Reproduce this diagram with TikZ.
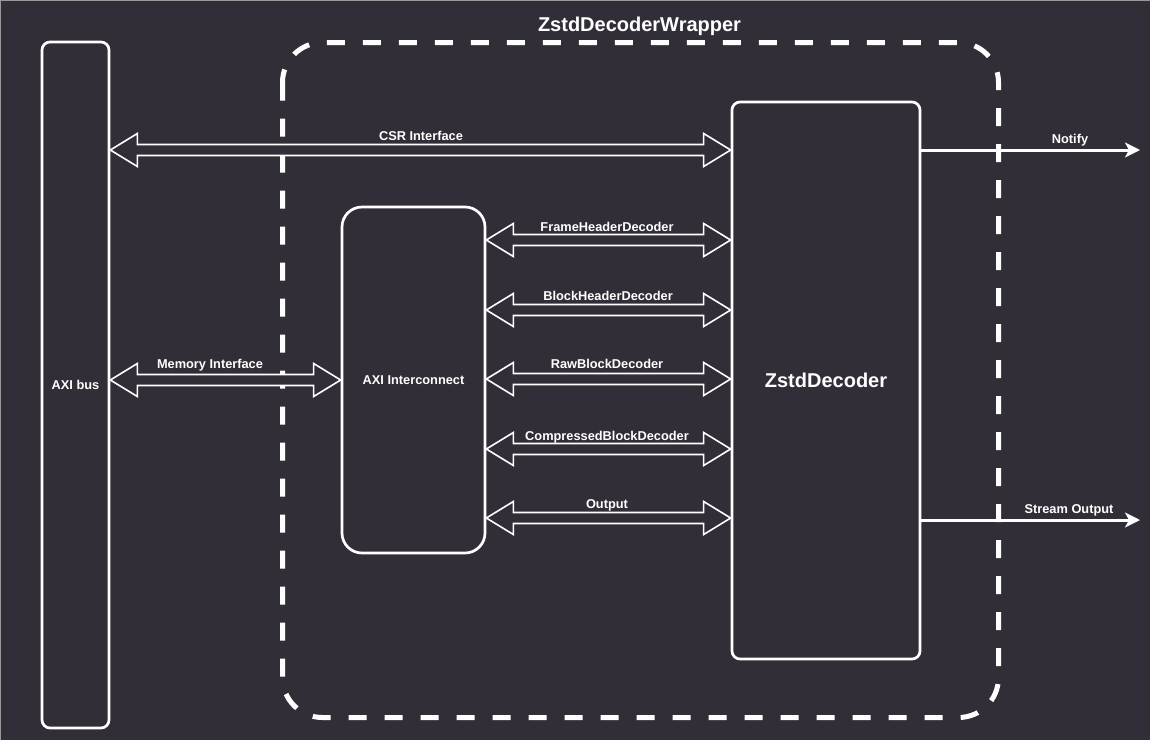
\documentclass[tikz,border=0pt]{standalone}
\usepackage{fontspec}
\setmainfont{Liberation Sans}
\usetikzlibrary{arrows.meta,calc}
\definecolor{bg}{RGB}{50,46,56}
\newcommand\hollowarrow[2]{%
  \draw[harrow] let \p1=#1, \p2=#2 in
    (\x1,\y1) -- (\x1+27pt,\y1+16.5pt) -- (\x1+27pt,\y1+5.5pt) -- (\x2-27pt,\y2+5.5pt)
    -- (\x2-27pt,\y2+16.5pt) -- (\x2,\y2) -- (\x2-27pt,\y2-16.5pt) -- (\x2-27pt,\y2-5.5pt)
    -- (\x1+27pt,\y1-5.5pt) -- (\x1+27pt,\y1-16.5pt) -- cycle;}
\begin{document}
\begin{tikzpicture}[x=1pt,y=-1pt,
  box/.style={draw=white, line width=2.7pt, fill=bg, text=white, inner sep=0pt,
    font=\bfseries\fontsize{12.8}{15}\selectfont},
  lbl/.style={text=white, font=\bfseries\fontsize{12.8}{15}\selectfont, anchor=base, inner sep=0pt},
  harrow/.style={draw=white, line width=1.6pt, fill=bg, line join=miter},
  sarrow/.style={draw=white, line width=3pt, -{Stealth[length=15pt,width=15pt,inset=4pt]}}]
\useasboundingbox (0,0) rectangle (1150,740);
\fill[bg] (0,0) rectangle (1150,740);
\draw[gray!80, line width=1.5pt] (0,740) -- (0,0) -- (1150,0);
% wrapper
\draw[white, line width=5pt, dash pattern=on 18pt off 18pt, rounded corners=40pt]
  (282.5,42.5) rectangle (998.5,717.5);
\node[lbl, font=\bfseries\fontsize{20}{24}\selectfont] (title) at (639.5,31) {ZstdDecoderWrapper};
% boxes
\node[box, rounded corners=8pt, minimum width=67pt, minimum height=686pt] (axi) at (75.5,385) {AXI bus};
\node[box, rounded corners=20pt, minimum width=143pt, minimum height=346pt] (ic) at (413.5,380) {AXI Interconnect};
\node[box, rounded corners=8pt, minimum width=188pt, minimum height=557pt,
  font=\bfseries\fontsize{20}{24}\selectfont] (zd) at (826,380.5) {ZstdDecoder};
% hollow double arrows
\hollowarrow{(axi.east |- 0,150)}{(zd.west |- 0,150)}
\hollowarrow{(axi.east |- 0,380)}{(ic.west |- 0,380)}
\hollowarrow{(ic.east |- 0,240)}{(zd.west |- 0,240)}
\hollowarrow{(ic.east |- 0,310)}{(zd.west |- 0,310)}
\hollowarrow{(ic.east |- 0,379)}{(zd.west |- 0,379)}
\hollowarrow{(ic.east |- 0,449)}{(zd.west |- 0,449)}
\hollowarrow{(ic.east |- 0,518)}{(zd.west |- 0,518)}
% output arrows
\coordinate (nt) at (1140,150);
\coordinate (so) at (1140,520);
\draw[sarrow] (zd.east |- nt) -- (nt);
\draw[sarrow] (zd.east |- so) -- (so);
% labels
\node[lbl] (l1) at (421,140) {CSR Interface};
\node[lbl] (l2) at (210,368) {Memory Interface};
\node[lbl] (l3) at (607,231) {FrameHeaderDecoder};
\node[lbl] (l4) at (608,300) {BlockHeaderDecoder};
\node[lbl] (l5) at (607,368) {RawBlockDecoder};
\node[lbl] (l6) at (607,440) {CompressedBlockDecoder};
\node[lbl] (l7) at (607,508) {Output};
\node[lbl] (l8) at (1070,143) {Notify};
\node[lbl] (l9) at (1069,513) {Stream Output};
\end{tikzpicture}
\end{document}
